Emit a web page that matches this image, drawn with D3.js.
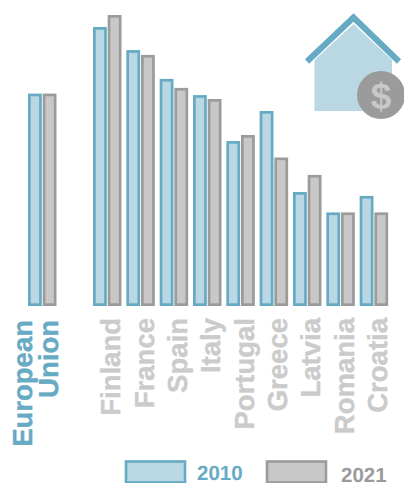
<!DOCTYPE html>
<html>
<head>
<meta charset="utf-8">
<script src="https://cdn.jsdelivr.net/npm/d3@7"></script>
<style>
  html, body { margin: 0; padding: 0; background: #fff; }
  svg { display: block; }
  text { font-family: "Liberation Sans", sans-serif; font-weight: bold; text-rendering: geometricPrecision; }
</style>
</head>
<body>
<script>
var countries = ["Finland", "France", "Spain", "Italy", "Portugal", "Greece", "Latvia", "Romania", "Croatia"];
var euName = ["European", "Union"];
var years = ["2010", "2021"];

var values2010 = [93, 85.3, 75.7, 70.3, 55, 65, 38, 31.2, 36.7];
var values2021 = [97, 83.7, 72.7, 69, 57, 49.5, 43.7, 31.2, 31.2];
var eu2010 = 70.8;
var eu2021 = 70.8;

var fills = ["#bad8e4", "#c8c8c8"];
var strokes = ["#66aac4", "#9b9b9b"];
var labelgrey = "#cbcbcb";

var width = 404, height = 483;
var baseline = 306;
var sw = 2.7;

var svg = d3.select("body").append("svg")
    .attr("width", width)
    .attr("height", height);

var y = d3.scaleLinear().domain([0, 100]).range([baseline, 6]);

// countries and the EU sit on separate bands, the gap between them is not a step
var x0 = d3.scaleBand().domain(countries).range([91.5, 391.5]).paddingInner(0);
var xEU = d3.scaleBand().domain(["EU"]).range([26.5, 59.5]);
var x1 = d3.scaleBand().domain(years).range([1.5, 30]).paddingInner(0.06);

function bars(data, left) {
  var g = svg.append("g");
  years.forEach(function(year, k) {
    g.append("g").selectAll("rect")
        .data(data)
        .enter().append("rect")
        .attr("x", function(d) { return left(d.name) + x1(year) + sw / 2; })
        .attr("y", function(d) { return y(d.v[k]) + sw / 2; })
        .attr("width", x1.bandwidth() - sw)
        .attr("height", function(d) { return baseline - y(d.v[k]) - sw; })
        .style("fill", fills[k])
        .style("stroke", strokes[k])
        .style("stroke-width", sw);
  });
}

bars([{ name: "EU", v: [eu2010, eu2021] }], xEU);
bars(countries.map(function(c, i) {
  return { name: c, v: [values2010[i], values2021[i]] };
}), x0);

// country labels
svg.selectAll(".label")
    .data(countries)
    .enter().append("text")
    .attr("class", "label")
    .attr("transform", function(d) {
      return "translate(" + (x0(d) + 28.8) + ",318) rotate(-90)";
    })
    .attr("text-anchor", "end")
    .style("font-size", "27.5px")
    .style("fill", labelgrey)
    .style("stroke", labelgrey)
    .style("stroke-width", 0.4)
    .text(function(d) { return d; });

// EU label
svg.selectAll(".eulabel")
    .data(euName)
    .enter().append("text")
    .attr("class", "eulabel")
    .attr("transform", function(d, i) {
      return "translate(" + (32 + i * 26) + ",320) rotate(-90)";
    })
    .attr("text-anchor", "end")
    .style("font-size", "27.5px")
    .style("fill", strokes[0])
    .style("stroke", strokes[0])
    .style("stroke-width", 0.4)
    .text(function(d) { return d; });

// legend
var legendX = [126, 267];
var legendTextX = [197, 341];
var legendTextY = [480, 481.5];
years.forEach(function(year, k) {
  svg.append("rect")
      .attr("x", legendX[k])
      .attr("y", 461.5)
      .attr("width", 59)
      .attr("height", 21)
      .style("fill", fills[k])
      .style("stroke", strokes[k])
      .style("stroke-width", 2.6);
  svg.append("text")
      .attr("x", legendTextX[k])
      .attr("y", legendTextY[k])
      .style("font-size", "20.5px")
      .style("fill", strokes[k])
      .text(year);
});

// house icon
svg.append("path")
    .attr("d", "M314.5,60L353.5,24L392,60V111H314.5Z")
    .style("fill", fills[0]);
svg.append("path")
    .attr("d", "M307,61.5L353.5,17.5L399,61.5")
    .style("fill", "none")
    .style("stroke", strokes[0])
    .style("stroke-width", 6);
svg.append("circle")
    .attr("cx", 381)
    .attr("cy", 95)
    .attr("r", 24)
    .style("fill", strokes[1]);
svg.append("text")
    .attr("x", 381)
    .attr("y", 108.5)
    .attr("text-anchor", "middle")
    .style("font-size", "37px")
    .style("fill", fills[1])
    .text("$");
</script>
</body>
</html>
